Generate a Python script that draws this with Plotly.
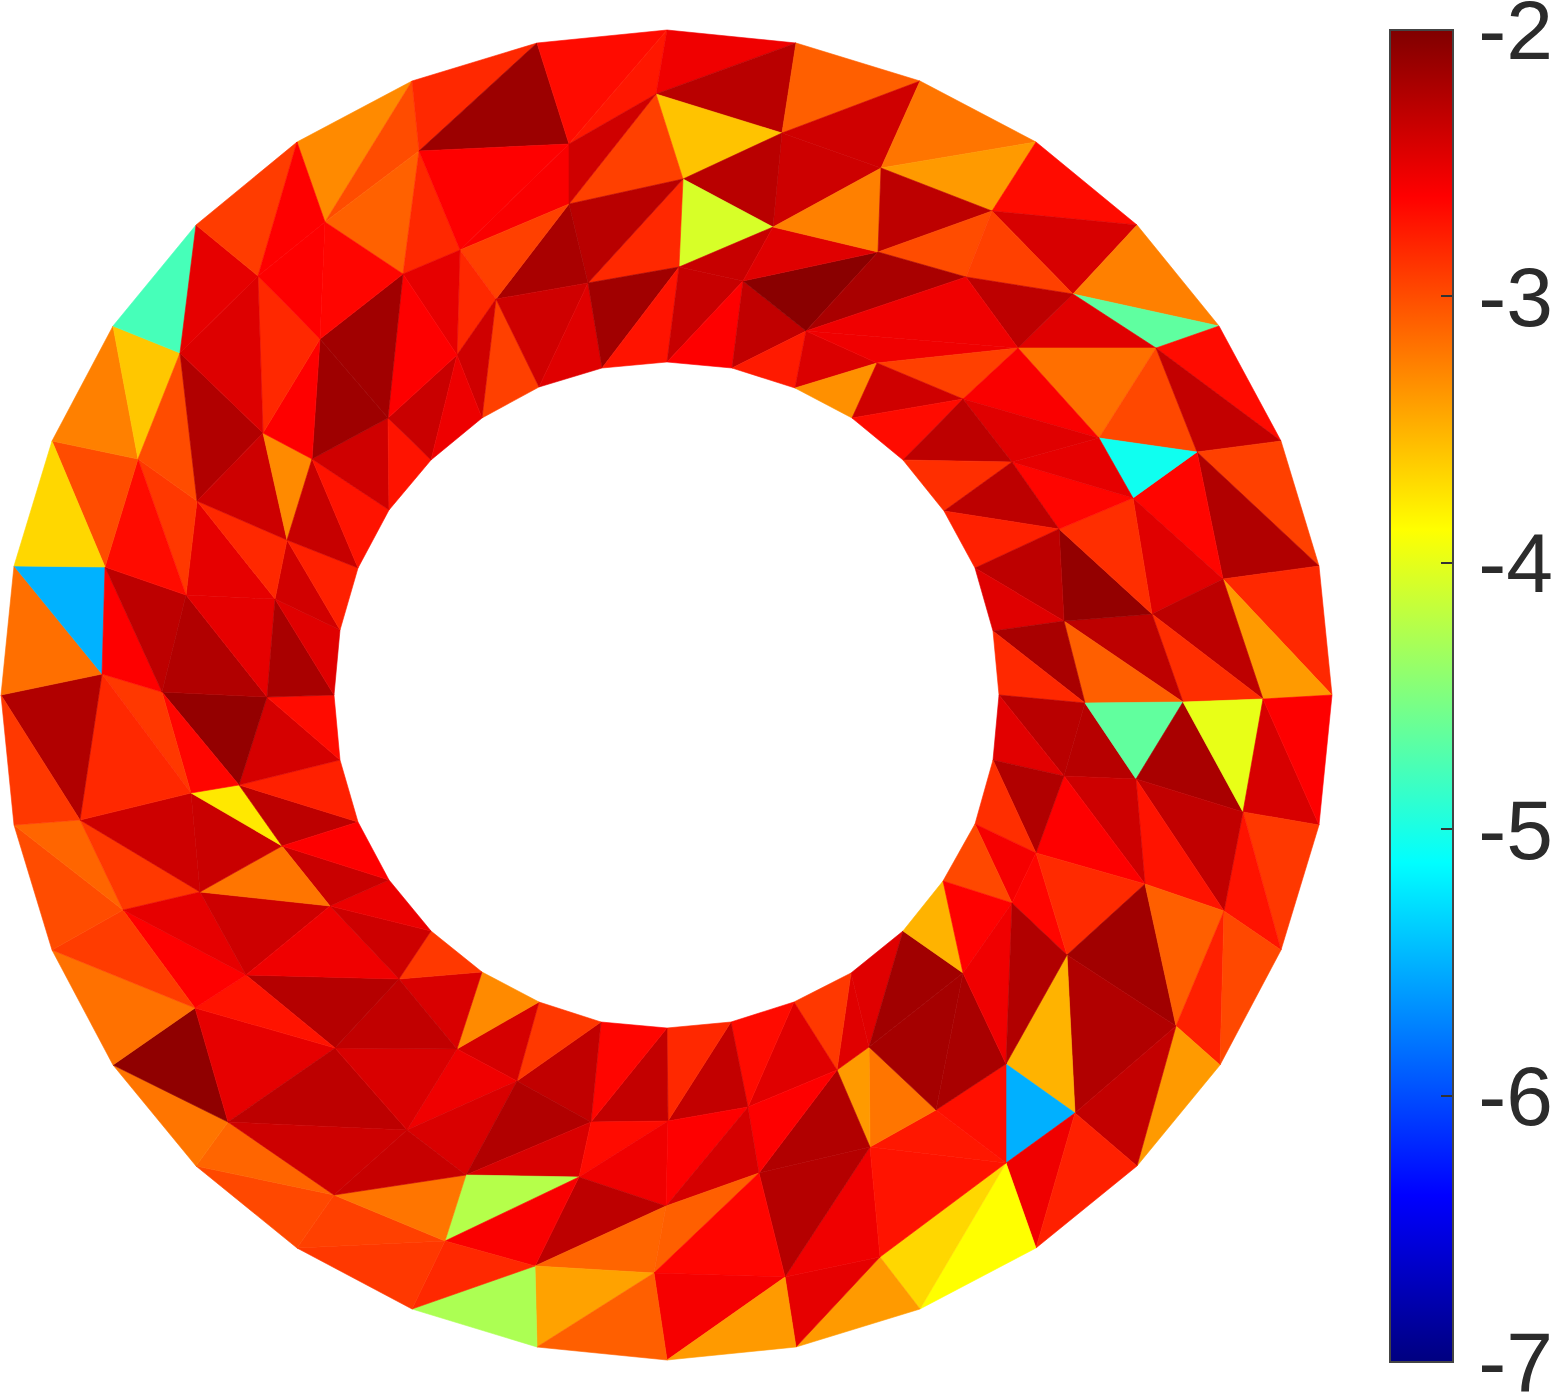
"""
Triangulated annulus coloured per face on a jet scale, with a colorbar
"""
import plotly.graph_objects as go
from plotly.colors import sample_colorscale

# mesh nodes: outer ring 0-31, inner ring 32-63, interior nodes from 64
node_x = [
    667, 796, 920, 1036, 1137, 1219, 1281, 1319, 1332, 1319, 1281, 1220, 1137, 1036, 920, 796,
    667, 537, 412, 297, 196, 113, 52, 14, 1, 14, 52, 113, 196, 297, 412, 537,
    667, 732, 795, 852, 903, 944, 975, 993, 999, 993, 975, 943, 903, 851, 794, 731,
    667, 601, 539, 482, 431, 389, 358, 340, 334, 340, 358, 389, 431, 482, 539, 602,
    656, 569, 419, 782, 683, 569, 460, 773, 679, 588, 496, 743, 806, 457, 881, 878,
    992, 966, 1073, 1156, 1018, 877, 963, 1099, 1197, 1133, 1012, 1059, 1223, 1152, 1064, 1085,
    1183, 1263, 1136, 1243, 1064, 1036, 1145, 1224, 1012, 1067, 963, 1176, 1006, 1075, 1006, 936,
    869, 837, 870, 880, 785, 759, 748, 668, 591, 517, 457, 399, 407, 466, 579, 666,
    445, 535, 654, 334, 228, 195, 335, 246, 123, 200, 330, 282, 80, 191, 239, 102,
    162, 267, 275, 186, 105, 197, 287, 138, 263, 312, 388, 180, 258, 320, 403, 325,
]
node_y = [
    30, 43, 81, 142, 225, 326, 441, 566, 695, 825, 950, 1065, 1166, 1248, 1309, 1347,
    1360, 1347, 1309, 1248, 1166, 1065, 950, 825, 695, 566, 441, 326, 225, 142, 81, 43,
    362, 368, 388, 418, 460, 511, 568, 631, 695, 760, 824, 881, 931, 973, 1002, 1022,
    1028, 1022, 1002, 972, 931, 880, 822, 760, 695, 630, 568, 510, 460, 418, 387, 368,
    94, 144, 151, 133, 179, 204, 250, 227, 267, 283, 299, 281, 331, 355, 168, 252,
    211, 277, 294, 348, 348, 363, 399, 438, 452, 498, 462, 529, 579, 614, 621, 703,
    702, 699, 779, 812, 776, 853, 884, 911, 903, 955, 973, 1026, 1064, 1113, 1163, 1110,
    1047, 1070, 1147, 1257, 1277, 1173, 1107, 1121, 1122, 1081, 1049, 979, 1130, 1175, 1177, 1206,
    1241, 1266, 1273, 1195, 1122, 1008, 1048, 975, 910, 892, 906, 846, 820, 793, 785, 674,
    692, 697, 599, 595, 567, 501, 540, 459, 433, 459, 418, 353, 276, 339, 274, 222,
]

top_faces = [
    (29, 30, 159), (30, 66, 159), (66, 158, 159), (66, 70, 158),
    (30, 31, 66), (31, 65, 66), (66, 65, 70), (65, 69, 70),
    (31, 0, 65), (0, 64, 65), (0, 1, 64), (64, 1, 67),
    (1, 2, 67), (2, 78, 67), (67, 78, 71), (64, 67, 68),
    (64, 68, 69), (64, 69, 65), (67, 71, 68), (68, 71, 72),
    (68, 72, 73), (68, 73, 69), (69, 73, 74), (69, 74, 70),
    (70, 74, 77), (70, 77, 158), (74, 62, 61), (74, 61, 77),
    (74, 73, 62), (73, 63, 62), (73, 72, 63), (72, 32, 63),
    (72, 75, 32), (72, 71, 75), (75, 33, 32), (75, 76, 33),
    (33, 76, 34), (76, 85, 34), (34, 85, 35), (75, 79, 76),
    (71, 79, 75), (71, 78, 79), (78, 2, 3), (78, 3, 80),
    (78, 80, 79), (79, 80, 81), (80, 3, 4), (80, 4, 82),
    (80, 82, 81), (4, 5, 82), (82, 5, 83), (82, 83, 84),
    (81, 82, 84), (76, 79, 81), (76, 81, 84), (76, 84, 85),
]
top_values = [
    -3.3, -3.0, -3.1, -2.82,
    -2.82, -2.14, -2.62, -2.6,
    -2.68, -2.74, -2.55, -2.28,
    -3.09, -2.39, -2.38, -3.58,
    -2.94, -2.39, -2.28, -4.07,
    -2.82, -2.28, -2.2, -2.94,
    -2.82, -2.5, -2.94, -2.39,
    -2.39, -2.47, -2.16, -2.72,
    -2.35, -2.35, -2.62, -2.32,
    -2.75, -2.45, -3.33, -2.05,
    -2.47, -3.25, -3.2, -3.38,
    -2.3, -3.0, -2.68, -2.43,
    -2.94, -3.25, -4.66, -2.47,
    -2.3, -2.2, -2.55, -2.55,
]

right_faces = [
    (85, 84, 86), (84, 83, 87), (84, 87, 86), (83, 88, 87),
    (83, 5, 6), (83, 6, 88), (88, 6, 7), (88, 7, 92),
    (88, 92, 89), (87, 88, 89), (89, 92, 93), (92, 7, 8),
    (92, 8, 97), (92, 97, 93), (93, 97, 96), (93, 96, 94),
    (94, 96, 95), (91, 93, 94), (91, 89, 93), (90, 89, 91),
    (90, 87, 89), (86, 87, 90), (85, 86, 35), (35, 86, 36),
    (36, 86, 90), (36, 90, 37), (37, 90, 91), (37, 91, 38),
    (38, 91, 94), (38, 94, 39), (39, 94, 95), (39, 95, 40),
    (40, 95, 100), (40, 100, 41), (95, 98, 100), (95, 96, 98),
    (96, 99, 98), (96, 97, 99), (97, 9, 99), (97, 8, 9),
    (99, 9, 10), (99, 10, 103), (98, 99, 103), (98, 103, 102),
    (100, 98, 102), (100, 102, 101), (41, 100, 101), (41, 101, 42),
    (42, 101, 104), (42, 104, 43), (101, 105, 104), (101, 102, 105),
    (102, 107, 105), (102, 103, 107), (103, 11, 107), (103, 10, 11),
    (107, 11, 12), (105, 107, 109), (107, 12, 109), (105, 109, 108),
    (108, 109, 110), (110, 109, 13), (109, 12, 13), (110, 13, 14),
]
right_values = [
    -2.94, -3.17, -2.6, -2.98,
    -2.68, -2.33, -2.94, -2.24,
    -2.65, -5.05, -2.47, -2.82,
    -3.38, -2.3, -2.85, -2.3,
    -3.09, -2.1, -2.85, -2.65,
    -2.5, -2.47, -2.39, -2.68,
    -2.3, -2.85, -2.3, -2.78,
    -2.3, -2.47, -2.2, -2.82,
    -2.28, -2.48, -2.27, -4.65,
    -2.2, -3.99, -2.43, -2.62,
    -2.9, -2.72, -2.32, -2.72,
    -2.38, -2.62, -2.24, -2.85,
    -2.58, -2.98, -2.65, -2.83,
    -2.16, -3.09, -2.78, -2.98,
    -3.38, -2.24, -2.33, -3.5,
    -5.51, -2.55, -2.78, -3.875,
]

bottom_faces = [
    (110, 14, 115), (115, 14, 15), (115, 15, 116), (114, 115, 116),
    (114, 110, 115), (114, 111, 110), (111, 108, 110), (112, 111, 114),
    (113, 112, 114), (117, 113, 114), (117, 114, 116), (45, 44, 112),
    (45, 112, 113), (46, 45, 113), (44, 106, 112), (106, 111, 112),
    (106, 108, 111), (44, 43, 106), (43, 104, 106), (104, 108, 106),
    (104, 105, 108), (46, 113, 118), (46, 118, 47), (113, 117, 118),
    (47, 118, 119), (47, 119, 48), (48, 119, 120), (48, 120, 49),
    (49, 120, 121), (49, 121, 50), (50, 121, 122), (50, 122, 51),
    (51, 122, 123), (51, 123, 52), (122, 121, 124), (121, 125, 124),
    (121, 120, 125), (120, 126, 125), (120, 119, 126), (119, 127, 126),
    (119, 118, 127), (118, 117, 127), (126, 127, 129), (125, 126, 128),
    (128, 126, 129), (127, 130, 129), (127, 117, 130), (117, 116, 130),
    (130, 116, 16), (116, 15, 16), (129, 130, 17), (130, 16, 17),
    (129, 17, 18), (128, 129, 18), (19, 128, 18), (131, 128, 19),
    (131, 125, 128), (20, 131, 19), (20, 132, 131), (21, 132, 20),
]
bottom_values = [
    -3.68, -3.38, -2.5, -2.55,
    -2.72, -2.74, -2.7, -3.2,
    -3.38, -2.24, -2.26, -2.47,
    -2.47, -2.9, -2.16, -2.18,
    -2.2, -3.5, -2.63, -2.55,
    -2.24, -2.47, -2.68, -2.62,
    -2.33, -2.82, -2.33, -2.65,
    -2.32, -2.9, -2.42, -3.3,
    -2.44, -2.9, -2.55, -2.44,
    -2.24, -2.44, -2.68, -2.55,
    -2.62, -2.42, -2.3, -4.24,
    -2.6, -3.12, -3.09, -2.65,
    -2.58, -3.38, -3.42, -3.09,
    -4.28, -2.82, -2.9, -2.94,
    -3.2, -2.98, -3.12, -3.2,
]

left_faces = [
    (21, 133, 132), (133, 134, 132), (132, 134, 124), (132, 124, 131),
    (131, 124, 125), (134, 122, 124), (134, 123, 122), (135, 123, 134),
    (133, 135, 134), (136, 135, 133), (22, 133, 21), (22, 136, 133),
    (23, 136, 22), (23, 140, 136), (140, 137, 136), (136, 137, 135),
    (137, 138, 135), (135, 138, 123), (138, 52, 123), (138, 53, 52),
    (139, 53, 138), (137, 139, 138), (140, 141, 137), (141, 139, 137),
    (141, 142, 139), (142, 54, 139), (139, 54, 53), (142, 55, 54),
    (145, 55, 142), (145, 56, 55), (144, 145, 142), (144, 142, 141),
    (143, 144, 141), (143, 141, 140), (24, 143, 140), (24, 140, 23),
    (25, 143, 24), (25, 148, 143), (148, 144, 143), (148, 147, 144),
    (147, 145, 144), (147, 146, 145), (149, 146, 147), (146, 56, 145),
    (146, 57, 56), (150, 57, 146), (150, 58, 57), (149, 150, 146),
    (151, 149, 147), (151, 147, 148), (26, 151, 148), (26, 148, 25),
    (26, 27, 151), (27, 155, 151), (27, 28, 155), (155, 149, 151),
    (155, 152, 149), (149, 152, 150), (152, 153, 150), (153, 58, 150),
    (153, 59, 58), (153, 154, 59), (154, 60, 59), (154, 77, 60),
    (77, 61, 60), (158, 77, 154), (157, 158, 154), (157, 154, 153),
    (152, 157, 153), (156, 157, 152), (155, 156, 152), (28, 156, 155),
    (28, 29, 156), (29, 159, 156), (159, 157, 156), (159, 158, 157),
]
left_values = [
    -2.08, -2.5, -2.3, -2.38,
    -2.35, -2.44, -2.32, -2.26,
    -2.72, -2.62, -3.18, -2.92,
    -3.0, -3.12, -2.9, -2.5,
    -2.38, -2.55, -2.38, -2.53,
    -2.36, -3.2, -2.38, -2.36,
    -3.76, -2.3, -2.62, -2.78,
    -2.42, -2.68, -2.1, -2.65,
    -2.9, -2.82, -2.24, -2.9,
    -3.17, -5.5, -2.62, -2.3,
    -2.24, -2.5, -2.5, -2.2,
    -2.47, -2.4, -2.78, -2.82,
    -2.9, -2.68, -3.0, -3.68,
    -3.25, -3.6, -4.78, -3.0,
    -2.24, -2.38, -3.3, -2.35,
    -2.72, -2.39, -2.72, -2.36,
    -2.54, -2.62, -2.16, -2.15,
    -2.62, -2.82, -2.46, -2.5,
    -2.92, -2.62, -2.62, -2.65,
]

tick_values = [-7, -6, -5, -4, -3, -2]
tick_labels = ["\u200a-7", "\u200a-6", "\u200a-5", "\u200a-4", "\u200a-3", "\u200a-2"]
value_min = -7
value_max = -2

jet = [
    [0.0, "rgb(0,0,128)"],
    [0.125, "rgb(0,0,255)"],
    [0.375, "rgb(0,255,255)"],
    [0.625, "rgb(255,255,0)"],
    [0.875, "rgb(255,0,0)"],
    [1.0, "rgb(128,0,0)"],
]

faces = top_faces + right_faces + bottom_faces + left_faces
values = top_values + right_values + bottom_values + left_values

fig = go.Figure()

for (a, b, c), value in zip(faces, values, strict=True):
    color = sample_colorscale(jet, (value - value_min) / (value_max - value_min))[0]
    fig.add_trace(
        go.Scatter(
            x=[node_x[a], node_x[b], node_x[c], node_x[a]],
            y=[node_y[a], node_y[b], node_y[c], node_y[a]],
            mode="lines",
            fill="toself",
            fillcolor=color,
            line=dict(color=color, width=0.6),
            hoverinfo="skip",
            showlegend=False,
        )
    )

# empty trace, only there to carry the colorbar
fig.add_trace(
    go.Scatter(
        x=[None],
        y=[None],
        mode="markers",
        showlegend=False,
        marker=dict(
            color=[value_min],
            cmin=value_min,
            cmax=value_max,
            colorscale=jet,
            showscale=True,
            colorbar=dict(
                xref="container",
                yref="container",
                x=1390 / 1556,
                xanchor="left",
                y=1 - 30 / 1395,
                yanchor="top",
                xpad=0,
                ypad=0,
                thickness=63,
                thicknessmode="pixels",
                len=1332,
                lenmode="pixels",
                outlinecolor="#444444",
                outlinewidth=2,
                tickmode="array",
                tickvals=tick_values,
                ticktext=tick_labels,
                ticks="inside",
                ticklen=13,
                tickwidth=1.5,
                tickcolor="#333333",
                ticklabeloverflow="allow",
                tickfont=dict(family="Liberation Sans", size=84, color="#2b2b2b"),
            ),
        ),
    )
)

fig.update_layout(
    width=1556,
    height=1395,
    margin=dict(l=0, r=0, t=0, b=0, autoexpand=False),
    paper_bgcolor="white",
    plot_bgcolor="white",
    xaxis=dict(range=[0, 1556], visible=False, fixedrange=True),
    yaxis=dict(range=[1395, 0], visible=False, fixedrange=True),
)

fig.write_html(
    "out.html",
    config=dict(displayModeBar=False),
    post_script="document.body.style.margin='0';",
)
